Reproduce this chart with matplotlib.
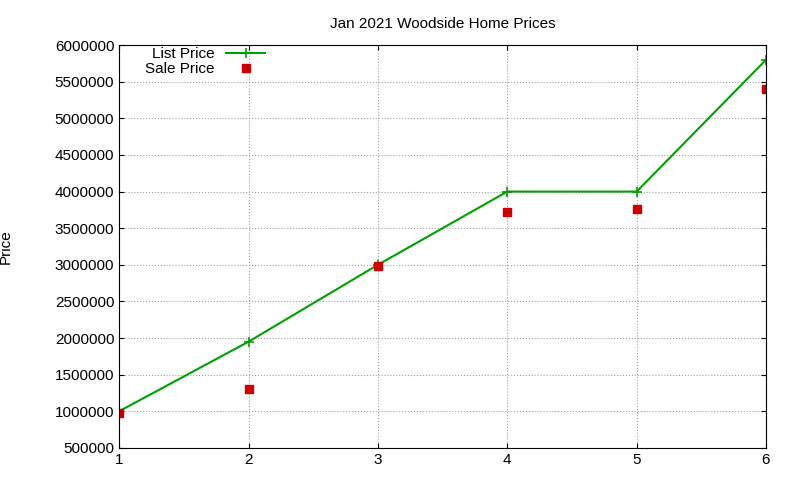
import matplotlib
matplotlib.use("Agg")
import matplotlib.pyplot as plt

# gnuplot-style chart of home prices
list_x = [1, 2, 3, 4, 5, 6]
list_price = [1000000, 1950000, 3000000, 4000000, 4000000, 5800000]
sale_x = [1, 2, 3, 4, 5, 6]
sale_price = [980000, 1300000, 2980000, 3720000, 3760000, 5400000]

plt.rcParams["font.family"] = ["Liberation Sans", "DejaVu Sans"]
fig = plt.figure(figsize=(8, 4.8), dpi=100)
ax = fig.add_axes([0.149, 0.067, 0.8085, 0.839])

ax.plot(list_x, list_price, color="#00a000", lw=1.5, marker="+", ms=7, mew=1.2, label="List Price")
ax.plot(sale_x, sale_price, ls="none", marker="s", ms=5.5, color="#cc0000", label="Sale Price")

ax.set_xlim(1, 6)
ax.set_ylim(500000, 6000000)
ax.set_yticks(range(500000, 6000001, 500000))
ax.ticklabel_format(axis="y", style="plain", useOffset=False)
ax.grid(True, color="#a0a0a0", ls=":", lw=0.8)
ax.tick_params(direction="in", top=True, right=True, labelsize=11)
ax.set_title("Jan 2021 Woodside Home Prices", fontsize=11, pad=12)
ax.set_ylabel("Price", fontsize=11)
ax.yaxis.set_label_coords(-0.165, 0.5)
ax.legend(loc="upper left", markerfirst=False, frameon=False, fontsize=11,
          borderaxespad=0.0, handlelength=2.5, labelspacing=0.05, bbox_to_anchor=(0.03, 1.01))

fig.savefig("out.png")
